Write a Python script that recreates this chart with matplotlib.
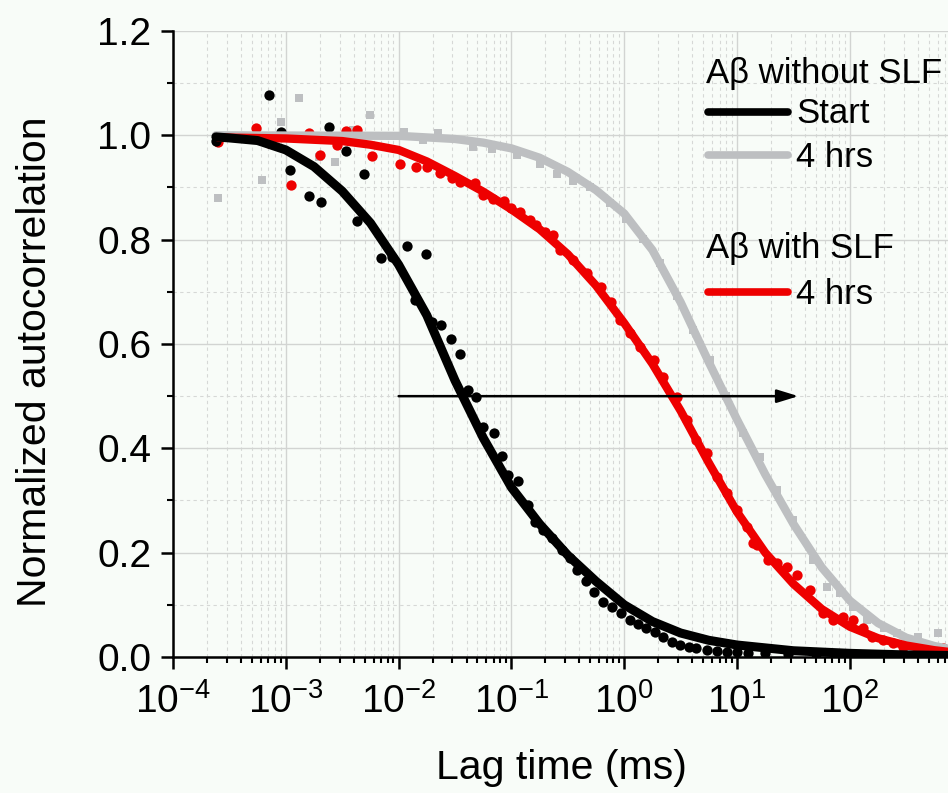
import numpy as np
import matplotlib
matplotlib.use("Agg")
import matplotlib.pyplot as plt
from matplotlib.ticker import FixedLocator, FuncFormatter, MultipleLocator
from matplotlib.lines import Line2D

plt.rcParams['font.family'] = ['Liberation Sans', 'DejaVu Sans']
plt.rcParams['mathtext.fontset'] = 'custom'
plt.rcParams['mathtext.rm'] = 'Liberation Sans'
plt.rcParams['mathtext.it'] = 'Liberation Sans'
plt.rcParams['mathtext.default'] = 'regular'

# ---------------- data (log10 of lag time in ms, normalized G) ----------------
# Fit curves
black_fit_logx = [-3.62, -3.50, -3.25, -3.00, -2.75, -2.50, -2.25, -2.00, -1.75, -1.50,
                  -1.25, -1.00, -0.75, -0.50, -0.25, 0.00, 0.25, 0.50, 0.75, 1.00,
                  1.50, 2.00, 2.50, 2.87]
black_fit_y = [0.997, 0.995, 0.990, 0.972, 0.940, 0.893, 0.832, 0.752, 0.655, 0.530,
               0.420, 0.325, 0.255, 0.195, 0.145, 0.100, 0.068, 0.046, 0.032, 0.023,
               0.012, 0.007, 0.004, 0.003]

gray_fit_logx = [-3.62, -2.00, -1.50, -1.25, -1.00, -0.75, -0.50, -0.25, 0.00, 0.25,
                 0.50, 0.75, 1.00, 1.25, 1.50, 1.75, 2.00, 2.25, 2.50, 2.75, 2.87]
gray_fit_y = [1.000, 0.999, 0.993, 0.986, 0.975, 0.957, 0.930, 0.895, 0.850, 0.780,
              0.680, 0.565, 0.455, 0.350, 0.255, 0.172, 0.108, 0.065, 0.037, 0.021,
              0.016]

red_fit_logx = [-3.60, -3.00, -2.50, -2.25, -2.00, -1.75, -1.50, -1.25, -1.00, -0.75,
                -0.50, -0.25, 0.00, 0.25, 0.50, 0.75, 1.00, 1.25, 1.50, 1.75,
                2.00, 2.25, 2.50, 2.75, 2.87]
red_fit_y = [0.996, 0.994, 0.989, 0.982, 0.972, 0.950, 0.922, 0.892, 0.858, 0.820,
             0.772, 0.712, 0.640, 0.562, 0.472, 0.372, 0.278, 0.200, 0.140, 0.092,
             0.058, 0.036, 0.022, 0.013, 0.010]

# Measured points
black_pts_logx = [-3.62, -3.15, -3.04, -2.96, -2.79, -2.69, -2.62, -2.47, -2.37, -2.31,
                  -2.16, -2.06, -1.93, -1.855, -1.76, -1.70, -1.62, -1.54, -1.455, -1.385,
                  -1.31, -1.25, -1.155, -1.085, -1.03, -0.94, -0.85, -0.79, -0.72, -0.64,
                  -0.55, -0.48, -0.42, -0.34, -0.27, -0.19, -0.11, -0.03, 0.05, 0.12,
                  0.19, 0.27, 0.34, 0.42, 0.49, 0.57, 0.64, 0.73, 0.82, 0.91,
                  1.00, 1.10, 1.25, 1.45, 1.70, 2.00, 2.30, 2.60, 2.85]
black_pts_y = [0.990, 1.078, 1.006, 0.934, 0.884, 0.873, 1.016, 0.970, 0.836, 0.926,
               0.765, 0.767, 0.788, 0.684, 0.773, 0.643, 0.636, 0.610, 0.581, 0.512,
               0.499, 0.441, 0.430, 0.385, 0.349, 0.338, 0.291, 0.259, 0.243, 0.228,
               0.206, 0.189, 0.167, 0.146, 0.125, 0.105, 0.096, 0.084, 0.071, 0.063,
               0.056, 0.048, 0.038, 0.029, 0.023, 0.019, 0.017, 0.013, 0.012, 0.010,
               0.009, 0.008, 0.007, 0.006, 0.005, 0.005, 0.004, 0.004, 0.004]

red_pts_logx = [-3.60, -3.26, -3.15, -2.95, -2.79, -2.70, -2.55, -2.47, -2.37, -2.24,
                -1.99, -1.85, -1.75, -1.63, -1.53, -1.46, -1.32, -1.25, -1.16, -1.07,
                -1.00, -0.92, -0.835, -0.78, -0.70, -0.63, -0.57, -0.45, -0.33, -0.21,
                -0.12, -0.04, 0.05, 0.14, 0.26, 0.34, 0.47, 0.56, 0.64, 0.73,
                0.82, 0.91, 1.00, 1.09, 1.14, 1.18, 1.27, 1.35, 1.44, 1.53,
                1.65, 1.76, 1.85, 1.94, 2.03, 2.12, 2.20, 2.29, 2.38, 2.47,
                2.60, 2.71, 2.83]
red_pts_y = [0.988, 1.015, 0.985, 0.905, 1.004, 0.962, 0.981, 1.009, 1.010, 0.961,
             0.946, 0.940, 0.940, 0.928, 0.918, 0.910, 0.908, 0.886, 0.878, 0.874,
             0.861, 0.853, 0.838, 0.828, 0.815, 0.809, 0.780, 0.761, 0.736, 0.709,
             0.680, 0.646, 0.621, 0.594, 0.569, 0.537, 0.498, 0.454, 0.416, 0.391,
             0.345, 0.314, 0.282, 0.249, 0.218, 0.215, 0.186, 0.180, 0.173, 0.157,
             0.128, 0.084, 0.071, 0.077, 0.071, 0.055, 0.038, 0.033, 0.027, 0.019,
             0.017, 0.013, 0.017]

gray_pts_logx = [-3.60, -3.21, -3.04, -2.88, -2.71, -2.56, -2.40, -2.25, -1.95, -1.78,
                 -1.65, -1.34, -1.17, -0.95, -0.75, -0.60, -0.45, -0.30, -0.13, 0.02,
                 0.17, 0.32, 0.47, 0.61, 0.76, 0.90, 1.05, 1.20, 1.35, 1.50,
                 1.67, 1.80, 1.91, 2.03, 2.15, 2.30, 2.42, 2.60, 2.78]
gray_pts_y = [0.880, 0.914, 1.026, 1.071, 0.959, 0.949, 1.010, 1.039, 1.007, 0.991,
              1.005, 0.978, 0.974, 0.962, 0.945, 0.926, 0.912, 0.900, 0.870, 0.840,
              0.802, 0.755, 0.692, 0.627, 0.569, 0.500, 0.429, 0.383, 0.320, 0.262,
              0.185, 0.135, 0.123, 0.095, 0.071, 0.055, 0.046, 0.038, 0.046]

arrow_start_x = 1e-2
arrow_end_x = 35.0
arrow_y = 0.5

xtick_exponents = [-4, -3, -2, -1, 0, 1, 2]
yticks = [0.0, 0.2, 0.4, 0.6, 0.8, 1.0, 1.2]

BLACK = '#000000'
GRAY = '#bdbfc1'
RED = '#ee0000'
BG = '#f8fcf8'

# ---------------- figure ----------------
fig = plt.figure(figsize=(9.48, 7.93), dpi=100, facecolor=BG)
ax = fig.add_axes([173 / 948, (793 - 657) / 793, 1 - 173 / 948, (657 - 31) / 793])
ax.set_facecolor(BG)

def tx(lx):
    return np.power(10.0, np.asarray(lx))

# scatter points first, fits on top
ax.scatter(tx(gray_pts_logx), gray_pts_y, marker='s', s=34, color=GRAY, linewidths=0, zorder=3)
ax.scatter(tx(red_pts_logx), red_pts_y, marker='o', s=55, color=RED, linewidths=0, zorder=3)
ax.scatter(tx(black_pts_logx), black_pts_y, marker='o', s=55, color=BLACK, linewidths=0, zorder=3)

ax.plot(tx(gray_fit_logx), gray_fit_y, color=GRAY, lw=6.0, solid_capstyle='round',
        solid_joinstyle='round', zorder=4)
ax.plot(tx(red_fit_logx), red_fit_y, color=RED, lw=6.0, solid_capstyle='round',
        solid_joinstyle='round', zorder=5)
ax.plot(tx(black_fit_logx), black_fit_y, color=BLACK, lw=6.5, solid_capstyle='round',
        solid_joinstyle='round', zorder=6)

ax.annotate('', xy=(arrow_end_x, arrow_y), xytext=(arrow_start_x, arrow_y),
            arrowprops=dict(arrowstyle='-|>,head_length=1.3,head_width=0.4',
                            color='black', lw=1.8, shrinkA=0, shrinkB=0), zorder=7)

ax.set_xscale('log')
ax.set_xlim(1e-4, 10 ** 2.87)
ax.set_ylim(0, 1.2)

ax.xaxis.set_major_locator(FixedLocator([10.0 ** e for e in xtick_exponents]))
ax.xaxis.set_major_formatter(FuncFormatter(lambda v, p: r'$10^{%d}$' % int(round(np.log10(v)))))
minor_x = [m * 10.0 ** e for e in range(-4, 3) for m in range(2, 10)]
ax.xaxis.set_minor_locator(FixedLocator(minor_x))
ax.xaxis.set_minor_formatter(FuncFormatter(lambda v, p: ''))

ax.yaxis.set_major_locator(FixedLocator(yticks))
ax.yaxis.set_major_formatter(FuncFormatter(lambda v, p: '%.1f' % v))
ax.yaxis.set_minor_locator(MultipleLocator(0.1))

ax.grid(True, which='major', color='#d2d4d2', lw=1.0, ls='-', zorder=0)
ax.grid(True, which='minor', color='#d6d8d6', lw=0.8, ls=(0, (3, 3)), zorder=0)
ax.set_axisbelow(True)

for s in ['top', 'right']:
    ax.spines[s].set_visible(False)
for s in ['left', 'bottom']:
    ax.spines[s].set_linewidth(1.8)
    ax.spines[s].set_color('black')

ax.tick_params(which='major', direction='out', length=8.5, width=1.8, labelsize=28, colors='black')
ax.tick_params(axis='y', which='major', pad=7)
ax.tick_params(axis='x', which='major', pad=10)
ax.tick_params(which='minor', direction='out', length=4.5, width=1.5, colors='black')

fig.text(35 / 948, 1 - 362 / 793, 'Normalized autocorrelation', rotation=90,
         ha='center', va='center', fontsize=29.5)
fig.text(561 / 948, 1 - 768 / 793, 'Lag time (ms)', ha='center', va='center', fontsize=29.5)

# legend (manual)
def fx(px):
    return px / 948
def fy(py):
    return 1 - py / 793

LFS = 25
fig.text(fx(706), fy(83), 'A\u03b2 without SLF', ha='left', va='baseline', fontsize=LFS)
fig.add_artist(Line2D([fx(708), fx(788)], [fy(112), fy(112)], color=BLACK, lw=5.5,
                      solid_capstyle='round'))
fig.text(fx(796), fy(123), 'Start', ha='left', va='baseline', fontsize=LFS)
fig.add_artist(Line2D([fx(708), fx(788)], [fy(155), fy(155)], color=GRAY, lw=5.5,
                      solid_capstyle='round'))
fig.text(fx(796), fy(167), '4 hrs', ha='left', va='baseline', fontsize=LFS)
fig.text(fx(706), fy(258), 'A\u03b2 with SLF', ha='left', va='baseline', fontsize=LFS)
fig.add_artist(Line2D([fx(708), fx(788)], [fy(292), fy(292)], color=RED, lw=5.5,
                      solid_capstyle='round'))
fig.text(fx(796), fy(304), '4 hrs', ha='left', va='baseline', fontsize=LFS)

fig.savefig('out.png', dpi=100, facecolor=BG)
